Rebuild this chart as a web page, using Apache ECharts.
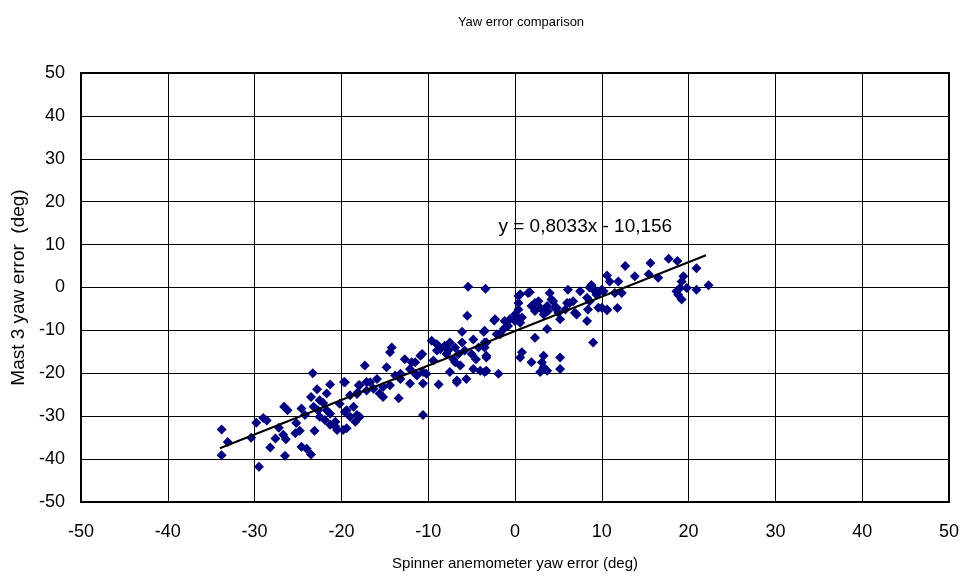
<!DOCTYPE html>
<html>
<head>
<meta charset="utf-8">
<script src="https://cdn.jsdelivr.net/npm/echarts@6/dist/echarts.min.js"></script>
<style>html,body{margin:0;padding:0;background:#fff}#c{width:968px;height:576px}</style>
</head>
<body>
<div id="c"></div>
<script>
// Spinner anemometer yaw error (x) and Mast 3 yaw error (y), deg
const spinnerYaw = [
-33.8,-33.1,-33.8,-29.5,-30.4,-29.8,-29.0,-28.6,-28.2,-27.6,-27.2,-26.7,-26.4,-26.5,-26.6,-26.2,-25.3,-24.8,-25.2,-24.6,
-24.2,-24.0,-23.5,-23.1,-23.3,-23.5,-22.8,-22.5,-22.1,-23.2,-22.7,-21.7,-21.3,-21.7,-22.5,-21.9,-21.3,-20.7,-20.5,-21.3,
-19.7,-20.2,-19.4,-19.0,-19.4,-18.4,-18.2,-18.0,-24.6,-20.7,-19.8,-19.6,-18.2,-18.6,-17.9,
-17.3,-14.8,-14.2,-14.4,-12.7,-11.9,-10.9,-12.1,-11.5,-10.6,-10.2,-12.1,-10.6,-8.8,-13.8,-13.2,-15.9,-16.7,-17.9,-16.3,
-15.2,-14.4,-19.6,-19.0,-18.1,-17.1,-15.6,-15.2,-13.4,-10.6,-13.2,-11.3,-17.1,
-9.6,-9.0,-8.6,-8.1,-7.7,-7.5,-6.9,-6.5,-6.1,-5.8,-5.0,-4.8,-4.2,-3.5,-3.3,-5.5,-2.4,-6.1,-3.6,-2.1,
-9.0,-7.1,-6.3,-4.5,-7.9,-10.7,-11.5,-9.4,-6.7,-5.6,-4.8,-4.0,-3.3,-1.9,-6.9,-7.5,-6.7,-5.4,-3.4,
-3.5,-2.3,-1.7,-1.3,-0.8,-0.6,0.0,0.6,0.8,0.2,0.4,0.4,0.4,0.6,1.5,-1.2,0.0,-3.3,-3.5,-3.3,
-3.5,0.8,0.6,1.9,3.3,3.1,3.3,2.9,3.7,5.2,5.2,
1.7,1.9,2.3,2.7,2.9,3.3,3.7,4.0,4.2,4.6,5.0,5.8,6.1,6.3,6.7,7.5,8.3,8.8,9.2,9.6,
8.3,7.1,5.2,3.7,2.3,9.0,2.3,3.3,3.8,4.4,4.8,6.0,6.9,8.4,8.6,9.4,10.2,10.6,
17.7,18.7,15.6,13.8,15.4,16.5,12.7,10.6,10.9,11.9,12.3,11.5,9.0,9.4,10.0,8.6,10.0,10.6,11.8,
19.4,19.2,19.0,18.6,18.8,19.2,19.8,20.9,20.9,22.3
];
const mastYaw = [
-33.1,-36.0,-39.1,-41.8,-35.0,-31.5,-30.4,-31.0,-37.3,-35.2,-32.7,-34.3,-35.4,-39.2,-27.8,-28.6,-34.0,-33.4,-31.6,-28.2,
-29.7,-37.6,-38.9,-33.4,-20.0,-25.5,-23.7,-26.3,-26.9,-27.8,-28.6,-28.6,-22.6,-24.7,-30.1,-30.9,-32.0,-31.3,-33.2,-29.4,
-22.0,-27.1,-28.6,-30.1,-32.8,-31.3,-24.8,-22.8,-37.1,-32.4,-33.2,-29.0,-29.7,-27.8,-30.1,
-18.2,-18.6,-14.0,-15.1,-16.7,-17.4,-15.9,-19.0,-20.1,-19.7,-20.1,-22.4,-22.4,-22.6,-20.5,-21.3,-21.3,-22.1,-22.8,-23.6,
-23.2,-22.8,-22.1,-25.1,-24.4,-24.0,-24.7,-25.5,-25.8,-29.7,-20.1,-20.5,-22.0,
-12.4,-13.2,-14.4,-13.6,-14.7,-12.8,-14.0,-15.5,-12.8,-14.7,-15.5,-12.1,-14.0,-12.8,-16.3,-6.6,-7.7,-10.3,-10.3,-10.9,
-14.7,-16.7,-18.2,-16.7,-15.5,-15.5,-17.4,-17.0,-22.1,-21.3,-19.0,-19.4,-19.4,-20.1,-17.4,-19.7,-21.7,0.2,-0.3,
-10.1,-7.4,-10.9,-9.7,-9.0,-7.4,-7.8,-8.2,-7.0,-6.7,-5.1,-3.6,-2.0,-1.6,-1.3,-7.8,-6.3,-12.8,-14.0,-15.9,
-19.7,-15.1,-16.3,-17.4,-15.9,-17.4,-18.6,-19.7,-19.4,-16.3,-19.0,
-1.1,-4.3,-3.6,-3.2,-4.7,-5.5,-4.3,-1.3,-2.8,-4.7,-5.9,-5.1,-0.5,-3.6,-3.2,-0.9,-2.4,0.6,-0.9,-4.7,
-7.8,-6.3,-7.4,-9.7,-11.7,-12.8,-5.5,-6.3,-5.5,-3.2,-4.7,-3.6,-5.9,-5.1,0.0,-1.3,-0.9,-5.1,
6.7,6.2,5.7,2.6,3.1,2.3,5.0,2.8,1.4,1.4,-1.3,-1.3,-0.2,-1.7,-0.5,-3.2,-4.7,-5.3,-4.8,
2.6,1.4,-0.1,-0.9,-1.7,-2.8,-0.1,4.5,-0.5,0.5
];
// Linear trend reported on the chart
const trendSlope = 0.8033;
const trendIntercept = -10.156;
const trendRangeX = [-34, 22];
const trendLabel = 'y = 0,8033x - 10,156';
const axisTicks = [-50, -40, -30, -20, -10, 0, 10, 20, 30, 40, 50];

const points = spinnerYaw.map((x, i) => [x, mastYaw[i]]);
const trend = trendRangeX.map(x => [x, trendSlope * x + trendIntercept]);

const font = '"Liberation Sans", Arial, sans-serif';
const chart = echarts.init(document.getElementById('c'), null, {renderer: 'canvas'});
chart.setOption({
  animation: false,
  backgroundColor: '#fff',
  title: {
    text: 'Yaw error comparison',
    left: 516, top: 11, textAlign: 'center',
    textStyle: {fontFamily: font, fontSize: 13, fontWeight: 'normal', color: '#000'}
  },
  grid: {left: 81, right: 19, top: 73, bottom: 70, show: true, borderColor: '#000', borderWidth: 2, containLabel: false},
  xAxis: {
    type: 'value', min: axisTicks[0], max: axisTicks[axisTicks.length - 1], interval: 10,
    name: 'Spinner anemometer yaw error (deg)', nameLocation: 'middle', nameGap: 54,
    nameTextStyle: {fontFamily: font, fontSize: 15, color: '#000'},
    axisLine: {show: true, onZero: false, lineStyle: {color: '#000', width: 2}},
    axisTick: {show: false},
    axisLabel: {fontFamily: font, fontSize: 18, color: '#000', margin: 21},
    splitLine: {show: true, lineStyle: {color: '#000', width: 1}}
  },
  yAxis: {
    type: 'value', min: axisTicks[0], max: axisTicks[axisTicks.length - 1], interval: 10,
    name: 'Mast 3 yaw error  (deg)', nameLocation: 'middle', nameGap: 51,
    nameTextStyle: {fontFamily: font, fontSize: 19, color: '#000'},
    axisLine: {show: true, onZero: false, lineStyle: {color: '#000', width: 2}},
    axisTick: {show: false},
    axisLabel: {fontFamily: font, fontSize: 18, color: '#000', margin: 16},
    splitLine: {show: true, lineStyle: {color: '#000', width: 1}}
  },
  series: [
    {
      type: 'scatter', data: points, symbol: 'diamond', symbolSize: 10,
      itemStyle: {color: '#000080', opacity: 1}
    },
    {
      type: 'line', data: trend, symbol: 'none', z: 5,
      lineStyle: {color: '#000', width: 2},
      markPoint: {
        symbol: 'rect', symbolSize: 1, itemStyle: {color: 'rgba(0,0,0,0)'},
        data: [{coord: [8.1, 14.2], value: trendLabel}],
        label: {show: true, position: 'inside', formatter: trendLabel,
                fontFamily: font, fontSize: 19, color: '#000'}
      }
    }
  ]
});
</script>
</body>
</html>
